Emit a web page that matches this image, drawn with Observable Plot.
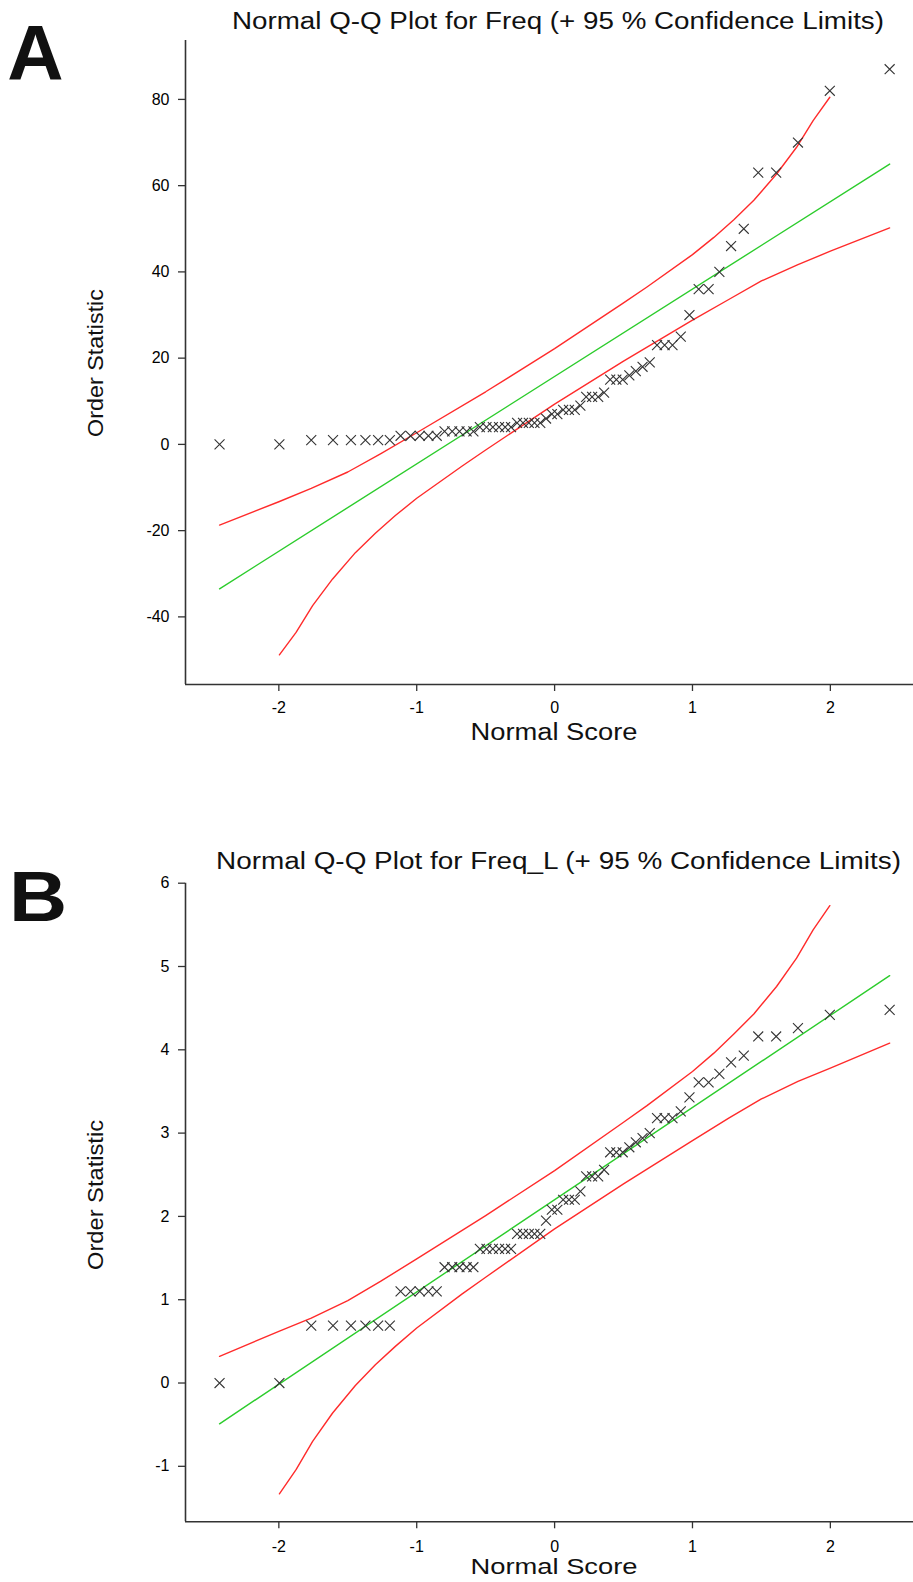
<!DOCTYPE html>
<html><head><meta charset="utf-8">
<script src="https://cdn.jsdelivr.net/npm/d3@7"></script>
<script src="https://cdn.jsdelivr.net/npm/@observablehq/plot@0.6"></script>
<style>
body{margin:0;background:#fff;}
#page{position:relative;width:913px;height:1582px;overflow:hidden;font-family:"Liberation Sans",Arial,sans-serif;color:#111;background:#fff;}
#page svg{position:absolute;left:0;}
#page svg g, #page svg text{font-size:16px !important;font-family:"Liberation Sans",Arial,sans-serif !important;}
#page svg text{fill:#000;}
</style></head><body><div id="page"></div>
<script>
// ---- data ----
const normalScore = [-2.43,-1.996,-1.765,-1.607,-1.477,-1.372,-1.28,-1.195,-1.117,-1.045,-0.978,-0.915,-0.855,-0.798,-0.743,-0.69,-0.638,-0.589,-0.542,-0.494,-0.448,-0.403,-0.359,-0.316,-0.272,-0.229,-0.187,-0.146,-0.104,-0.062,-0.02,
  0.02,0.062,0.104,0.146,0.187,0.229,0.272,0.316,0.359,0.403,0.448,0.494,0.542,0.589,0.638,0.69,0.743,0.798,0.855,0.915,0.978,1.045,1.117,1.195,1.28,1.372,1.477,1.607,1.765,1.996,2.43];
const freq = [0,0,1,1,1,1,1,1,2,2,2,2,2,3,3,3,3,3,4,4,4,4,4,4,5,5,5,5,5,6,7,7,8,8,8,9,11,11,11,12,15,15,15,16,17,18,19,23,23,23,25,30,36,36,40,46,50,63,63,70,82,87];
const freqL = [0,0,0.69,0.69,0.69,0.69,0.69,0.69,1.10,1.10,1.10,1.10,1.10,1.39,1.39,1.39,1.39,1.39,1.61,1.61,1.61,1.61,1.61,1.61,1.79,1.79,1.79,1.79,1.79,1.95,2.08,2.08,2.20,2.20,2.20,2.30,2.48,2.48,2.48,2.56,2.77,2.77,2.77,2.83,2.89,2.94,3.00,3.18,3.18,3.18,3.26,3.43,3.61,3.61,3.71,3.85,3.93,4.16,4.16,4.26,4.42,4.48];

const fitZ = [-2.43, 2.43];
const fitA = [-33.5, 65.0];
const fitB = [-0.49, 4.89];

const upperZ = [-2.43,-2.0,-1.765,-1.5,-1.263,-1.0,-0.5,0,0.5,0.67,1.0,1.155,1.3,1.445,1.61,1.755,1.875,1.996];
const upperA = [-18.7,-13.3,-10.2,-6.4,-2.2,2.7,12.2,22.2,32.8,36.5,44.0,48.0,52.1,56.6,62.7,68.9,75.1,80.5];
const upperB = [0.32,0.62,0.78,0.99,1.22,1.49,2.01,2.55,3.13,3.33,3.74,3.96,4.19,4.43,4.76,5.10,5.44,5.73];

const lowerZ = [-1.996,-1.875,-1.755,-1.61,-1.445,-1.3,-1.155,-1.0,-0.67,-0.5,0,0.5,1.0,1.263,1.5,1.765,2.0,2.43];
const lowerA = [-48.8,-43.6,-37.4,-31.2,-25.1,-20.6,-16.5,-12.5,-5.0,-1.3,9.35,19.3,28.8,33.6,37.9,41.7,44.8,50.2];
const lowerB = [-1.33,-1.04,-0.70,-0.36,-0.03,0.22,0.44,0.66,1.07,1.27,1.85,2.39,2.91,3.18,3.41,3.62,3.78,4.08];

const xTicks = [-2,-1,0,1,2];
const yTicksA = [-40,-20,0,20,40,60,80];
const yTicksB = [-1,0,1,2,3,4,5,6];

const titleA = "Normal Q-Q Plot for Freq (+ 95 % Confidence Limits)";
const titleB = "Normal Q-Q Plot for Freq_L (+ 95 % Confidence Limits)";
const xLabel = "Normal Score";
const yLabel = "Order Statistic";

// ---- drawing ----
const page = document.getElementById("page");
const xDomain = [-2.677, 2.603];
const RED = "#ff2b2b", GREEN = "#2ccc2c", INK = "#333";
const FONT = '"Liberation Sans", Arial, sans-serif';

function panel(values, fit, upper, lower, yDomain, yTicks, top, height, mt, mb, xPad) {
  const pts = normalScore.map((z, i) => ({z, v: values[i]}));
  const fitData = fitZ.map((z, i) => ({z, v: fit[i]}));
  const up = upperZ.map((z, i) => ({z, v: upper[i]}));
  const lo = lowerZ.map((z, i) => ({z, v: lower[i]}));
  const svg = Plot.plot({
    width: 913, height, marginLeft: 185, marginRight: 0, marginTop: mt, marginBottom: mb,
    style: {fontFamily: FONT, fontSize: "16px", color: "#111", background: "transparent", overflow: "visible"},
    x: {domain: xDomain},
    y: {domain: yDomain},
    marks: [
      Plot.ruleX([xDomain[0]], {stroke: "#333", strokeWidth: 1.6}),
      Plot.ruleY([yDomain[0]], {stroke: "#333", strokeWidth: 1.6}),
      Plot.axisX({ticks: xTicks, tickSize: 7, tickPadding: xPad, tickFormat: d => String(d), label: null, fontSize: 16, stroke: "#333", strokeWidth: 1.3}),
      Plot.axisY({ticks: yTicks, tickSize: 7, tickPadding: 9, tickFormat: d => String(d), label: null, fontSize: 16, stroke: "#333", strokeWidth: 1.3}),
      Plot.line(up, {x: "z", y: "v", stroke: RED, strokeWidth: 1.4}),
      Plot.line(lo, {x: "z", y: "v", stroke: RED, strokeWidth: 1.4}),
      Plot.line(fitData, {x: "z", y: "v", stroke: GREEN, strokeWidth: 1.4}),
      Plot.dot(pts, {x: "z", y: "v", symbol: "times", r: 4.6, stroke: INK, strokeWidth: 1.1})
    ]
  });
  svg.style.top = top + "px";
  page.appendChild(svg);
}

panel(freq, fitA, upperA, lowerA, [-55.68, 93.66], yTicksA, 0, 760, 40, 76, 10);
panel(freqL, fitB, upperB, lowerB, [-1.666, 6.0], yTicksB, 790, 792, 92.7, 60.7, 12);

function label(text, cx, cy, size, opts = {}) {
  const d = document.createElement("div");
  d.textContent = text;
  d.style.cssText = `position:absolute;left:0;top:0;white-space:nowrap;line-height:1;font-size:${size}px;transform-origin:0 0;color:#111;` + (opts.css || "");
  page.appendChild(d);
  const r = d.getBoundingClientRect();
  const w = r.width, h = r.height;
  const sx = opts.width ? opts.width / w : (opts.sx || 1);
  d.style.transform = `translate(${cx}px,${cy}px) rotate(${opts.rotate || 0}deg) scale(${sx},1) translate(${-w / 2}px,${-h / 2}px)`;
}

label("A", 35.5, 53, 78, {css: "font-weight:bold;"});
label("B", 38, 897, 70, {css: "font-weight:bold;", sx: 1.15});
label(titleA, 558, 21, 23, {width: 652});
label(titleB, 558.5, 861, 23, {width: 685});
label(xLabel, 554, 732, 23, {width: 167});
label(xLabel, 554, 1567, 22, {width: 167});
label(yLabel, 96, 363, 22.5, {rotate: -90, width: 148});
label(yLabel, 96, 1195, 22.5, {rotate: -90, width: 150});
</script>
</body></html>
